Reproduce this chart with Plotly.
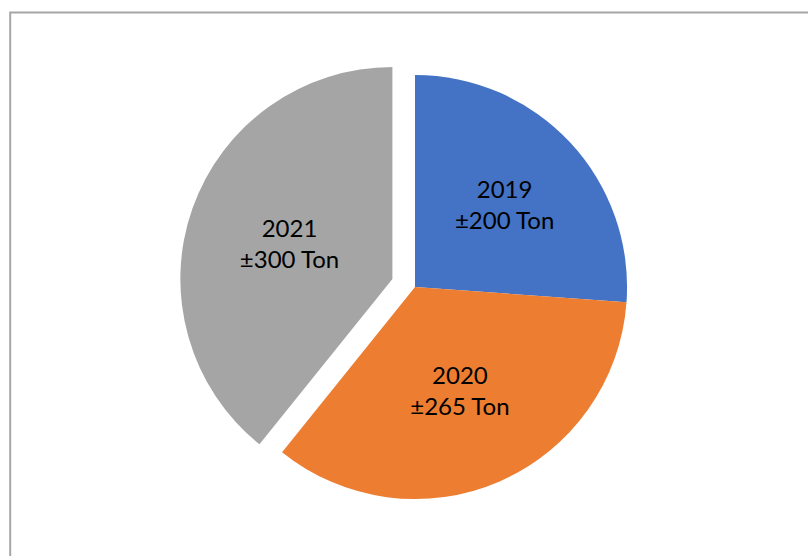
import plotly.graph_objects as go

# Annual tonnage per year
years = ["2019", "2020", "2021"]
tonnage = [200, 265, 300]
slice_colors = ["#4472C4", "#ED7D31", "#A5A5A5"]
slice_pull = [0, 0, 0.113]

fig = go.Figure(
    go.Pie(
        labels=years,
        values=tonnage,
        sort=False,
        direction="clockwise",
        rotation=0,
        pull=slice_pull,
        marker=dict(colors=slice_colors, line=dict(width=0)),
        texttemplate="%{label}<br>±%{value} Ton",
        textposition="inside",
        insidetextorientation="horizontal",
        insidetextfont=dict(family="Lato", size=24, color="#000000"),
        hoverinfo="label+value",
        showlegend=False,
    )
)

fig.update_layout(
    width=808,
    height=556,
    margin=dict(l=22, r=0, t=51, b=33),
    paper_bgcolor="#ffffff",
    plot_bgcolor="#ffffff",
    uniformtext=dict(minsize=10, mode=False),
    shapes=[
        # chart-area frame
        dict(
            type="rect",
            xref="paper",
            yref="paper",
            x0=-0.015,
            x1=1.1,
            y0=-0.3,
            y1=1.0816,
            line=dict(color="#a6a6a6", width=2),
            fillcolor="rgba(0,0,0,0)",
            layer="below",
        )
    ],
)

fig.write_html("out.html")
